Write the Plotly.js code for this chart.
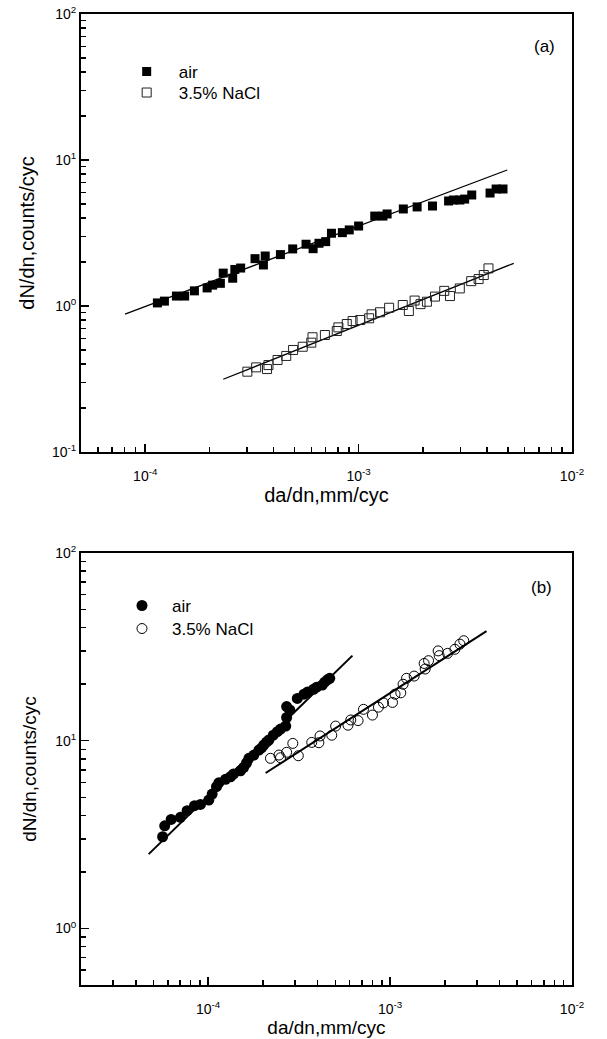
<!DOCTYPE html>
<html>
<head>
<meta charset="utf-8">
<script src="https://cdn.plot.ly/plotly-3.0.1.min.js"></script>
<style>html,body{margin:0;padding:0;background:#fff;}#chart{width:607px;height:1039px;}</style>
</head>
<body>
<div id="chart"></div>
<script>
// ---------- Panel (a) data ----------
var airA_x = [1.14e-4, 1.23e-4, 1.40e-4, 1.53e-4, 1.70e-4, 1.95e-4, 2.07e-4, 2.25e-4, 2.32e-4, 2.57e-4, 2.63e-4, 2.80e-4, 3.27e-4, 3.58e-4, 3.65e-4, 4.30e-4, 4.91e-4, 5.67e-4, 6.12e-4, 6.52e-4, 7.01e-4, 7.46e-4, 8.39e-4, 9.04e-4, 1.00e-3, 1.19e-3, 1.30e-3, 1.36e-3, 1.62e-3, 1.88e-3, 2.22e-3, 2.64e-3, 2.78e-3, 2.98e-3, 3.14e-3, 3.39e-3, 4.13e-3, 4.41e-3, 4.75e-3];
var airA_y = [1.05, 1.08, 1.17, 1.17, 1.27, 1.33, 1.39, 1.43, 1.68, 1.55, 1.78, 1.82, 2.11, 1.91, 2.20, 2.25, 2.46, 2.65, 2.47, 2.69, 2.76, 3.15, 3.18, 3.32, 3.53, 4.13, 4.13, 4.27, 4.62, 4.77, 4.84, 5.24, 5.32, 5.32, 5.40, 5.76, 5.94, 6.33, 6.33];
var naclA_x = [3.01e-4, 3.31e-4, 3.72e-4, 3.78e-4, 4.17e-4, 4.58e-4, 4.93e-4, 5.47e-4, 6.00e-4, 6.08e-4, 6.95e-4, 7.90e-4, 8.04e-4, 8.80e-4, 9.37e-4, 1.018e-3, 1.12e-3, 1.15e-3, 1.26e-3, 1.39e-3, 1.61e-3, 1.72e-3, 1.83e-3, 1.95e-3, 2.09e-3, 2.28e-3, 2.52e-3, 2.68e-3, 2.98e-3, 3.37e-3, 3.65e-3, 3.86e-3, 4.06e-3];
var naclA_y = [0.355, 0.380, 0.370, 0.394, 0.427, 0.455, 0.500, 0.526, 0.561, 0.611, 0.633, 0.674, 0.714, 0.753, 0.789, 0.802, 0.824, 0.877, 0.906, 0.973, 1.016, 0.924, 1.09, 1.03, 1.07, 1.16, 1.27, 1.17, 1.32, 1.48, 1.53, 1.63, 1.81];
var fitAirA_x = [8.04e-5, 4.97e-3];
var fitAirA_y = [0.881, 8.54];
var fitNaclA_x = [2.32e-4, 5.33e-3];
var fitNaclA_y = [0.315, 1.96];

// ---------- Panel (b) data ----------
var airB_x = [5.62e-5, 5.77e-5, 6.26e-5, 7.04e-5, 7.66e-5, 8.41e-5, 9.07e-5, 1.008e-4, 1.052e-4, 1.111e-4, 1.144e-4, 1.245e-4, 1.327e-4, 1.378e-4, 1.506e-4, 1.570e-4, 1.625e-4, 1.674e-4, 1.783e-4, 1.900e-4, 1.965e-4, 2.023e-4, 2.094e-4, 2.157e-4, 2.280e-4, 2.40e-4, 2.50e-4, 2.67e-4, 2.70e-4, 2.70e-4, 2.81e-4, 3.09e-4, 3.36e-4, 3.52e-4, 3.79e-4, 3.95e-4, 4.24e-4, 4.37e-4, 4.52e-4, 4.66e-4];
var airB_y = [3.08, 3.52, 3.81, 3.91, 4.24, 4.51, 4.58, 4.83, 5.20, 5.69, 5.97, 6.23, 6.43, 6.65, 6.92, 7.22, 7.61, 8.06, 8.39, 8.92, 9.15, 9.49, 9.84, 10.09, 10.7, 11.17, 11.54, 11.97, 13.3, 15.2, 14.6, 16.8, 17.7, 18.2, 18.8, 19.3, 19.8, 20.5, 21.1, 21.5];
var naclB_x = [2.20e-4, 2.45e-4, 2.50e-4, 2.70e-4, 2.92e-4, 3.13e-4, 3.71e-4, 4.06e-4, 4.12e-4, 4.78e-4, 5.02e-4, 5.87e-4, 6.08e-4, 6.67e-4, 7.14e-4, 8.00e-4, 8.63e-4, 9.20e-4, 1.031e-3, 1.065e-3, 1.145e-3, 1.179e-3, 1.231e-3, 1.356e-3, 1.539e-3, 1.559e-3, 1.627e-3, 1.837e-3, 1.862e-3, 2.07e-3, 2.27e-3, 2.42e-3, 2.54e-3];
var naclB_y = [8.06, 8.39, 8.12, 8.68, 9.68, 8.32, 9.80, 9.76, 10.6, 10.7, 11.97, 12.1, 12.9, 12.8, 14.7, 13.7, 15.1, 15.9, 16.0, 17.7, 18.0, 20.0, 21.5, 22.1, 25.8, 24.1, 26.7, 30.1, 28.4, 29.2, 30.7, 32.7, 34.1];
var fitAirB_x = [4.71e-5, 6.21e-4];
var fitAirB_y = [2.49, 28.4];
var fitNaclB_x = [2.07e-4, 3.39e-3];
var fitNaclB_y = [6.73, 38.4];

// ---------- labels ----------
var seriesNames = ["air", "3.5% NaCl"];
var panelLabels = ["(a)", "(b)"];
var xTitle = "da/dn,mm/cyc";
var yTitle = "dN/dn,counts/cyc";
var xTickValsA = [1e-4, 1e-3, 1e-2];
var xTickTextA = ["10<sup>-4</sup>", "10<sup>-3</sup>", "10<sup>-2</sup>"];
var yTickValsA = [0.1, 1, 10, 100];
var yTickTextA = ["10<sup>-1</sup>", "10<sup>0</sup>", "10<sup>1</sup>", "10<sup>2</sup>"];
var xTickValsB = [1e-4, 1e-3, 1e-2];
var xTickTextB = ["10<sup>-4</sup>", "10<sup>-3</sup>", "10<sup>-2</sup>"];
var yTickValsB = [1, 10, 100];
var yTickTextB = ["10<sup>0</sup>", "10<sup>1</sup>", "10<sup>2</sup>"];

function minorVals(lo, hi, min) {
  var out = [];
  for (var e = lo; e < hi; e++) {
    for (var m = 2; m <= 9; m++) {
      var v = m * Math.pow(10, e);
      if (v > min * 1.0001) out.push(v);
    }
  }
  return out;
}

var FONT = "Liberation Sans, Arial, sans-serif";

function axisBase(extra) {
  var a = {
    type: "log",
    showline: true, linecolor: "black", linewidth: 2, mirror: true,
    ticks: "inside", ticklen: 8, tickwidth: 1.5, tickcolor: "black",
    tickmode: "array",
    showgrid: false, zeroline: false,
    tickfont: {family: FONT, size: 14, color: "black"},
    automargin: false
  };
  for (var k in extra) a[k] = extra[k];
  return a;
}
function minorAxis(vals) {
  return {tickmode: "array", tickvals: vals, ticks: "inside", ticklen: 5, tickwidth: 1.5, tickcolor: "black", showgrid: false};
}

var traces = [
  {x: fitAirA_x, y: fitAirA_y, mode: "lines", line: {color: "black", width: 1.3}, showlegend: false, xaxis: "x", yaxis: "y", hoverinfo: "skip"},
  {x: fitNaclA_x, y: fitNaclA_y, mode: "lines", line: {color: "black", width: 1.3}, showlegend: false, xaxis: "x", yaxis: "y", hoverinfo: "skip"},
  {x: airA_x, y: airA_y, name: seriesNames[0], mode: "markers", xaxis: "x", yaxis: "y", legend: "legend",
   marker: {symbol: "square", size: 9, color: "black", line: {width: 0}}},
  {x: naclA_x, y: naclA_y, name: seriesNames[1], mode: "markers", xaxis: "x", yaxis: "y", legend: "legend2",
   marker: {symbol: "square-open", size: 9, color: "#222", line: {width: 1}}},

  {x: fitAirB_x, y: fitAirB_y, mode: "lines", line: {color: "black", width: 2}, showlegend: false, xaxis: "x2", yaxis: "y2", hoverinfo: "skip"},
  {x: fitNaclB_x, y: fitNaclB_y, mode: "lines", line: {color: "black", width: 2}, showlegend: false, xaxis: "x2", yaxis: "y2", hoverinfo: "skip"},
  {x: airB_x, y: airB_y, name: seriesNames[0], mode: "markers", xaxis: "x2", yaxis: "y2", legend: "legend3",
   marker: {symbol: "circle", size: 11, color: "black", line: {width: 0}}},
  {x: naclB_x, y: naclB_y, name: seriesNames[1], mode: "markers", xaxis: "x2", yaxis: "y2", legend: "legend4",
   marker: {symbol: "circle-open", size: 10, color: "black", line: {width: 1}}}
];

function legendAt(x, y, itemwidth) {
  return {
    bgcolor: "rgba(0,0,0,0)", borderwidth: 0,
    font: {family: FONT, size: 17, color: "black"},
    itemwidth: itemwidth, xanchor: "left", yanchor: "top",
    x: x, y: y
  };
}

var layout = {
  width: 607, height: 1039,
  margin: {l: 81, r: 35, t: 14, b: 54},
  paper_bgcolor: "white", plot_bgcolor: "white",
  font: {family: FONT, color: "black"},
  showlegend: true,
  xaxis: axisBase({
    domain: [0, 1], anchor: "y",
    range: [Math.log10(5e-5), -2],
    tickvals: xTickValsA, ticktext: xTickTextA,
    minor: minorAxis(minorVals(-5, -2, 5e-5)),
    ticklabelstandoff: 10,
    title: {text: xTitle, font: {family: FONT, size: 20, color: "black"}, standoff: 2}
  }),
  yaxis: axisBase({
    domain: [0.5489, 1], anchor: "x",
    range: [-1, 2],
    tickvals: yTickValsA, ticktext: yTickTextA,
    minor: minorAxis(minorVals(-1, 2, 0.1)),
    title: {text: yTitle, font: {family: FONT, size: 20, color: "black"}, standoff: 12}
  }),
  xaxis2: axisBase({
    domain: [0, 1], anchor: "y2",
    range: [Math.log10(2e-5), -2],
    tickvals: xTickValsB, ticktext: xTickTextB,
    minor: minorAxis(minorVals(-5, -2, 2e-5)),
    ticklabelstandoff: 10,
    title: {text: xTitle, font: {family: FONT, size: 19, color: "black"}, standoff: 2}
  }),
  yaxis2: axisBase({
    domain: [0, 0.4449], anchor: "x2",
    range: [Math.log10(0.5), 2],
    tickvals: yTickValsB, ticktext: yTickTextB,
    minor: minorAxis(minorVals(-1, 2, 0.5)),
    title: {text: yTitle, font: {family: FONT, size: 19, color: "black"}, standoff: 14}
  }),
  legend: legendAt(0.0686, 0.9588, 54),
  legend2: legendAt(0.0686, 0.9372, 54),
  legend3: legendAt(0.0631, 0.4089, 50),
  legend4: legendAt(0.0631, 0.3852, 50),
  annotations: [
    {text: panelLabels[0], xref: "paper", yref: "paper", x: 0.945, y: 0.967, xanchor: "center", yanchor: "middle", showarrow: false, font: {family: FONT, size: 17, color: "black"}},
    {text: panelLabels[1], xref: "paper", yref: "paper", x: 0.937, y: 0.4089, xanchor: "center", yanchor: "middle", showarrow: false, font: {family: FONT, size: 17, color: "black"}}
  ]
};

Plotly.newPlot("chart", traces, layout, {displayModeBar: false, staticPlot: true});
</script>
</body>
</html>
